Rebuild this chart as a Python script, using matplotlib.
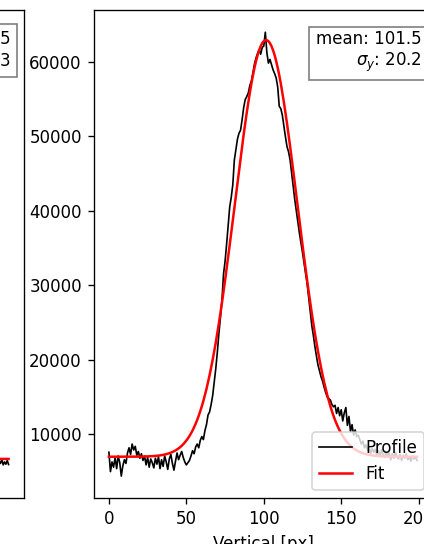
import matplotlib.pyplot as plt
import numpy as np

# vertical profile (counts per pixel row)
v_profile = [7600, 5000, 6300, 5600, 6900, 5400, 7100, 6200, 4400, 5800,
             6600, 6100, 7500, 8200, 7300, 8700, 7900, 8400, 7200, 7700,
             6800, 7400, 6500, 7100, 5900, 6900, 5600, 6700, 6200, 5500,
             6800, 6000, 7000, 5400, 6600, 5700, 7100, 6300, 5300, 6700,
             7300, 6100, 5200, 6400, 7500, 6600, 7200, 7700, 6900, 6300,
             5900, 6200, 6500, 7100, 7800, 7400, 8300, 8700, 8200, 9200,
             9700, 9300, 10500, 11300, 12600, 13000, 14000, 15200, 17000, 18800,
             21000, 23500, 25600, 28000, 31500, 33200, 35500, 38000, 40500, 41800,
             43500, 46800, 48200, 49600, 50400, 50800, 52200, 53800, 54900, 55300,
             55800, 56800, 57400, 58500, 59700, 60500, 61100, 61600, 61000, 61900,
             62100, 63950, 61200, 59800, 60300, 59600, 58900, 58400, 57800, 56600,
             54000, 53700, 52800, 51300, 49900, 48600, 47900, 46800, 45000, 43200,
             41500, 40000, 38500, 37000, 35700, 34400, 33000, 31500, 30200, 28400,
             26500, 24600, 23300, 21800, 20500, 19300, 18500, 17700, 17100, 16300,
             15600, 15000, 14800, 14600, 14000, 13700, 13900, 12800, 13600, 12500,
             13300, 11800, 12900, 13600, 11200, 12400, 10400, 11300, 9900, 10600,
             9700, 9900, 9300, 8700, 9100, 8200, 8600, 7900, 8300, 7400,
             8100, 7600, 8000, 7200, 7800, 7100, 7900, 7300, 6900, 7700,
             7000, 7500, 6600, 7400, 6800, 7600, 7000, 6700, 7300, 6500,
             7200, 6800, 7400, 6600, 7000, 6400, 7100, 6700, 6900, 6500]

# gaussian fit results: amplitude, mean, sigma, offset
v_fit = (55900, 101.5, 20.2, 7000)
h_fit = (50000, 118.5, 24.3, 6700)

# horizontal profile, only the last pixels are inside the crop
h_npix = 230
h_tail = [6400, 6100, 6650, 5900, 6300, 6000, 6500, 5950]


def gauss(x, a, mu, sig, c):
    return a * np.exp(-(x - mu) ** 2 / (2 * sig ** 2)) + c


fig = plt.figure(figsize=(424 / 120, 544 / 120), dpi=120)
ax = fig.add_axes([93.5 / 424, 45.7 / 544, 339 / 424, 488.3 / 544])
ax0 = fig.add_axes([-315 / 424, 45.7 / 544, 339 / 424, 488.3 / 544], sharey=ax)

# right panel: vertical profile
xv = np.arange(len(v_profile))
ax.plot(xv, v_profile, color='k', lw=1, label='Profile')
ax.plot(xv, gauss(xv, *v_fit), color='r', lw=1.5, label='Fit')
ax.set_xlabel('Vertical [px]')
ax.legend(loc='lower right')
ax.text(0.967, 0.96, 'mean: %.1f\n$\\sigma_y$: %.1f' % (v_fit[1], v_fit[2]),
        transform=ax.transAxes, ha='right', va='top', multialignment='right',
        bbox=dict(facecolor='white', alpha=0.5))

# left panel: horizontal profile (cut off)
xh = np.arange(h_npix)
ax0.plot(xh[-len(h_tail):], h_tail, color='k', lw=1)
ax0.plot(xh, gauss(xh, *h_fit), color='r', lw=1.5)
ax0.set_xlim(-0.05 * (h_npix - 1), 1.05 * (h_npix - 1))
ax0.set_xlabel('Horizontal [px]')
ax0.text(0.96, 0.96, 'mean: %.1f\n$\\sigma_x$: %.1f' % (h_fit[1], h_fit[2]),
         transform=ax0.transAxes, ha='right', va='top', multialignment='right',
         bbox=dict(facecolor='white', alpha=0.5))

fig.savefig('out.png', dpi=120)
